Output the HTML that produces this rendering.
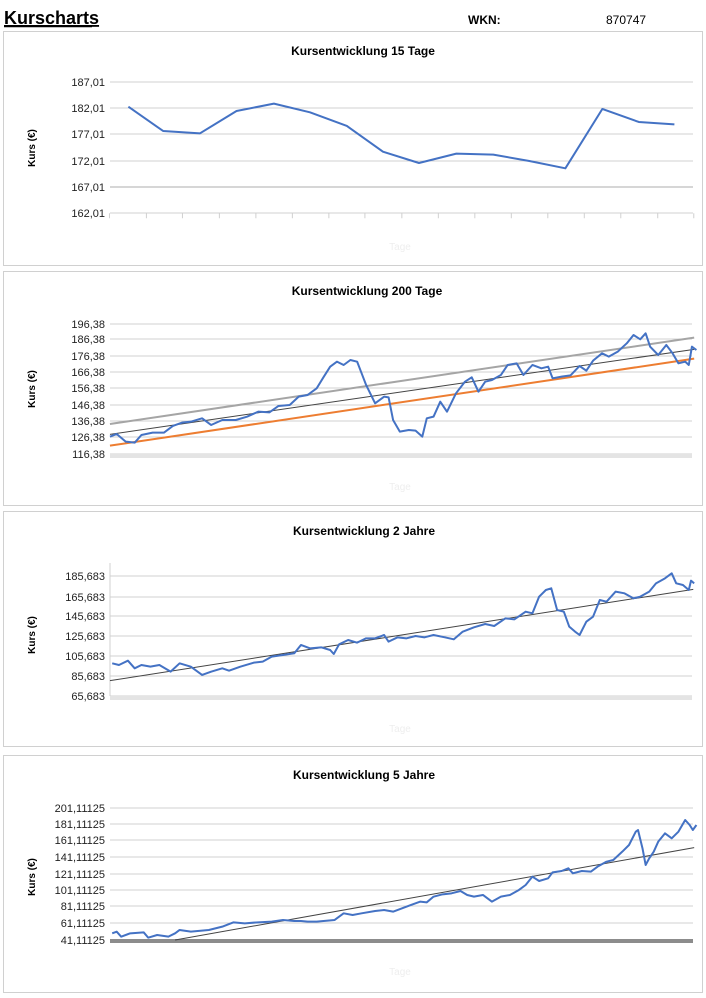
<!DOCTYPE html>
<html><head><meta charset="utf-8"><style>
html,body{margin:0;padding:0;background:#fff;}
svg{display:block;font-family:"Liberation Sans",sans-serif;}
.t{font-size:12px;font-weight:bold;text-anchor:middle;fill:#000;}
.l{font-size:11px;text-anchor:end;fill:#222;font-family:"Liberation Sans Narrow","Liberation Sans",sans-serif;}
.a{font-size:10px;font-weight:bold;fill:#000;}
.g line{stroke:#d0d0d0;stroke-width:1;}
.s{fill:none;stroke:#4472c4;stroke-width:2;vector-effect:non-scaling-stroke;stroke-linejoin:round;}
.tr{fill:none;vector-effect:non-scaling-stroke;}
.ft{font-size:10px;fill:#eee;text-anchor:middle;}
</style></head><body>
<svg width="706" height="998" viewBox="0 0 706 998">
<text x="4" y="24" font-size="18" font-weight="bold" text-decoration="underline">Kurscharts</text>
<line x1="4" y1="26.5" x2="92" y2="26.5" stroke="#000" stroke-width="1.5"/>
<text x="468" y="24" font-size="12" font-weight="bold">WKN:</text>
<text x="606" y="24" font-size="12">870747</text>

<!-- Panel 1 -->
<rect x="3.5" y="31.5" width="699" height="234" fill="none" stroke="#d0d0d0"/>
<text class="t" x="363" y="55">Kursentwicklung 15 Tage</text>
<g class="g"><line x1="110" y1="82" x2="693" y2="82"/><line x1="110" y1="108" x2="693" y2="108"/><line x1="110" y1="134" x2="693" y2="134"/><line x1="110" y1="161" x2="693" y2="161"/><line x1="110" y1="187" x2="693" y2="187" style="stroke:#c8c8c8;stroke-width:1.5"/><line x1="110" y1="213" x2="693" y2="213"/></g>
<text class="l" x="105" y="86">187,01</text><text class="l" x="105" y="112">182,01</text><text class="l" x="105" y="138">177,01</text><text class="l" x="105" y="165">172,01</text><text class="l" x="105" y="191">167,01</text><text class="l" x="105" y="217">162,01</text>
<text class="a" transform="translate(35,148) rotate(-90)" text-anchor="middle">Kurs (€)</text>
<g transform="translate(0,0) scale(0.4505,0.3333)">
<path class="tr" stroke="#d0d0d0" d="M243 640v15M325 640v15M405 640v15M487 640v15M568 640v15M649 640v15M730 640v15M810 640v15M892 640v15M973 640v15M1054 640v15M1135 640v15M1216 640v15M1297 640v15M1378 640v15M1460 640v15M1540 640v15"/>
<polyline class="s" points="285,320 362,393 444,400 525,333 608,311 688,337 770,378 850,455 930,489 1013,461 1095,464 1175,483 1255,505 1337,327 1418,366 1497,373"/>
</g>
<text class="ft" x="400" y="250">Tage</text>

<!-- Panel 2 -->
<rect x="3.5" y="271.5" width="699" height="234" fill="none" stroke="#d0d0d0"/>
<text class="t" x="367" y="295">Kursentwicklung 200 Tage</text>
<g class="g"><line x1="110" y1="324" x2="692" y2="324"/><line x1="110" y1="339" x2="692" y2="339"/><line x1="110" y1="356" x2="692" y2="356"/><line x1="110" y1="372" x2="692" y2="372"/><line x1="110" y1="388" x2="692" y2="388"/><line x1="110" y1="405" x2="692" y2="405"/><line x1="110" y1="421" x2="692" y2="421"/><line x1="110" y1="437" x2="692" y2="437"/><line x1="110" y1="454" x2="692" y2="454"/></g>
<rect x="110" y="454" width="582" height="4" fill="#e4e4e4"/>
<text class="l" x="105" y="328">196,38</text><text class="l" x="105" y="343">186,38</text><text class="l" x="105" y="360">176,38</text><text class="l" x="105" y="376">166,38</text><text class="l" x="105" y="392">156,38</text><text class="l" x="105" y="409">146,38</text><text class="l" x="105" y="425">136,38</text><text class="l" x="105" y="441">126,38</text><text class="l" x="105" y="458">116,38</text>
<text class="a" transform="translate(35,389) rotate(-90)" text-anchor="middle">Kurs (€)</text>
<g transform="translate(2.1,300) scale(0.4494,0.3333)">
<line class="tr" stroke="#a5a5a5" stroke-width="2" x1="240" y1="372" x2="1540" y2="113"/>
<line class="tr" stroke="#444" stroke-width="1" x1="240" y1="403" x2="1540" y2="148"/>
<line class="tr" stroke="#ed7d31" stroke-width="2" x1="240" y1="437" x2="1540" y2="176"/>
<polyline class="s" points="240,410 255,402 275,425 295,428 310,405 335,398 360,398 380,378 400,368 420,365 445,355 465,375 490,360 520,360 545,350 570,335 595,337 615,318 640,315 660,290 680,285 700,265 715,232 730,200 745,185 760,195 775,180 790,185 800,220 810,255 830,310 850,290 860,292 870,360 885,395 905,390 920,392 935,410 945,355 960,350 975,305 990,335 1010,280 1030,245 1045,232 1060,275 1075,245 1090,240 1110,225 1125,195 1145,190 1160,225 1180,195 1200,205 1215,200 1225,235 1245,230 1265,226 1285,198 1300,212 1315,182 1335,160 1350,170 1370,155 1390,130 1405,105 1420,118 1432,100 1442,140 1460,165 1478,135 1492,160 1505,190 1520,185 1528,195 1535,140 1545,150"/>
</g>
<text class="ft" x="400" y="490">Tage</text>

<!-- Panel 3 -->
<rect x="3.5" y="511.5" width="699" height="235" fill="none" stroke="#d0d0d0"/>
<text class="t" x="364" y="535">Kursentwicklung 2 Jahre</text>
<g class="g"><line x1="110" y1="576" x2="692" y2="576"/><line x1="110" y1="597" x2="692" y2="597"/><line x1="110" y1="616" x2="692" y2="616"/><line x1="110" y1="636" x2="692" y2="636"/><line x1="110" y1="656" x2="692" y2="656"/><line x1="110" y1="676" x2="692" y2="676"/><line x1="110" y1="696" x2="692" y2="696"/></g>
<line x1="110" y1="563" x2="110" y2="696" stroke="#d0d0d0"/>
<rect x="110" y="696" width="582" height="4" fill="#e4e4e4"/>
<text class="l" x="105" y="580">185,683</text><text class="l" x="105" y="601">165,683</text><text class="l" x="105" y="620">145,683</text><text class="l" x="105" y="640">125,683</text><text class="l" x="105" y="660">105,683</text><text class="l" x="105" y="680">85,683</text><text class="l" x="105" y="700">65,683</text>
<text class="a" transform="translate(35,635) rotate(-90)" text-anchor="middle">Kurs (€)</text>
<g transform="translate(2.1,550) scale(0.4494,0.3333)">
<line class="tr" stroke="#444" stroke-width="1" x1="240" y1="392" x2="1538" y2="118"/>
<polyline class="s" points="245,340 260,345 280,332 295,355 310,345 330,350 350,345 375,365 395,340 420,350 445,375 465,365 490,355 505,362 530,350 560,338 580,335 600,320 625,315 650,310 665,285 685,295 710,292 730,300 738,312 750,283 770,270 790,278 810,265 830,265 850,255 860,275 880,262 900,265 920,258 940,262 960,255 985,262 1005,268 1025,245 1050,232 1075,222 1095,228 1120,205 1140,208 1165,185 1180,190 1195,140 1210,120 1222,115 1235,180 1250,185 1262,230 1275,245 1285,255 1300,215 1315,200 1330,150 1345,155 1365,125 1385,130 1405,145 1420,140 1440,125 1455,100 1475,85 1490,70 1500,100 1515,105 1528,120 1533,92 1540,100"/>
</g>
<text class="ft" x="400" y="732">Tage</text>

<!-- Panel 4 -->
<rect x="3.5" y="755.5" width="699" height="237" fill="none" stroke="#d0d0d0"/>
<text class="t" x="364" y="779">Kursentwicklung 5 Jahre</text>
<g class="g"><line x1="110" y1="808" x2="693" y2="808"/><line x1="110" y1="824" x2="693" y2="824"/><line x1="110" y1="840" x2="693" y2="840"/><line x1="110" y1="857" x2="693" y2="857"/><line x1="110" y1="874" x2="693" y2="874"/><line x1="110" y1="890" x2="693" y2="890"/><line x1="110" y1="906" x2="693" y2="906"/><line x1="110" y1="923" x2="693" y2="923"/></g>
<rect x="110" y="939" width="583" height="4" fill="#8c8c8c"/>
<text class="l" x="105" y="812">201,11125</text><text class="l" x="105" y="828">181,11125</text><text class="l" x="105" y="844">161,11125</text><text class="l" x="105" y="861">141,11125</text><text class="l" x="105" y="878">121,11125</text><text class="l" x="105" y="894">101,11125</text><text class="l" x="105" y="910">81,11125</text><text class="l" x="105" y="927">61,11125</text><text class="l" x="105" y="944">41,11125</text>
<text class="a" transform="translate(35,877) rotate(-90)" text-anchor="middle">Kurs (€)</text>
<g transform="translate(2.1,795) scale(0.4494,0.3333)">
<line class="tr" stroke="#444" stroke-width="1" x1="385" y1="435" x2="1540" y2="158"/>
<polyline class="s" points="245,415 255,410 265,425 285,415 315,412 325,428 345,420 370,425 385,415 395,405 420,410 460,405 490,395 515,382 540,385 570,382 600,380 625,375 650,378 665,378 680,380 700,380 740,375 760,355 780,360 800,355 830,348 850,345 870,350 890,340 910,330 930,320 945,322 960,305 980,298 1000,295 1020,288 1035,300 1050,305 1070,300 1090,320 1110,305 1130,300 1150,285 1165,270 1180,245 1195,258 1215,250 1225,232 1245,228 1260,220 1270,235 1290,228 1310,230 1325,215 1345,200 1360,195 1380,170 1395,150 1410,110 1415,105 1425,160 1432,210 1440,190 1450,170 1460,140 1475,115 1490,130 1505,110 1520,75 1530,90 1537,105 1545,90"/>
</g>
<text class="ft" x="400" y="975">Tage</text>
</svg>
</body></html>
